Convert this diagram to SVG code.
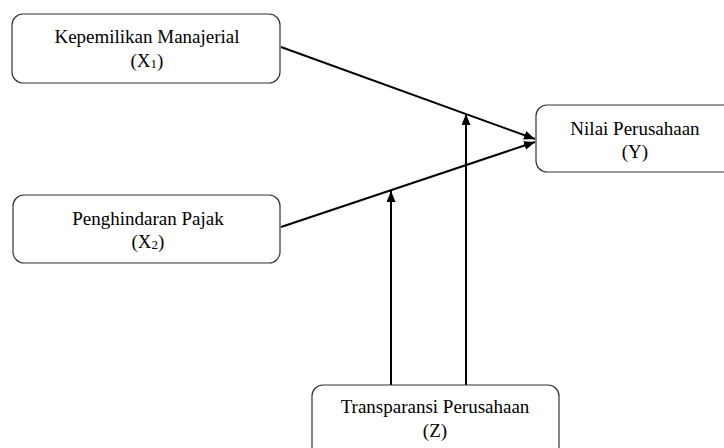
<svg xmlns="http://www.w3.org/2000/svg" width="724" height="448" viewBox="0 0 724 448">
<style>
.box{fill:#fff;stroke:#333;stroke-width:1.2}
text{font-family:'Liberation Serif','DejaVu Serif',serif;font-size:19px;fill:#000;text-anchor:middle}
.sub{font-size:13px}
.ln{stroke:#000;stroke-width:2;fill:none}
</style>
<defs>
<marker id="ah" markerWidth="11" markerHeight="9" refX="11" refY="4.5" orient="auto" markerUnits="userSpaceOnUse">
<path d="M0,0 L11,4.5 L0,9 Z" fill="#000"/>
</marker>
</defs>
<rect width="724" height="448" fill="#fff"/>
<g id="connectors">
<line class="ln" x1="281" y1="47" x2="535" y2="139" marker-end="url(#ah)"/>
<line class="ln" x1="281" y1="227" x2="535" y2="142" marker-end="url(#ah)"/>
<line class="ln" x1="391" y1="385" x2="391" y2="191" marker-end="url(#ah)"/>
<line class="ln" x1="466" y1="385" x2="466" y2="114" marker-end="url(#ah)"/>
</g>
<g id="x1">
<rect class="box" x="12" y="14" width="268" height="69" rx="11"/>
<text x="147" y="43" font-family="Liberation Serif, serif">Kepemilikan Manajerial</text>
<text x="147" y="67" font-family="Liberation Serif, serif">(X<tspan class="sub" dy="1">1</tspan><tspan dy="-1">)</tspan></text>
</g>
<g id="x2">
<rect class="box" x="13" y="195" width="267" height="68" rx="11"/>
<text x="148" y="225" font-family="Liberation Serif, serif">Penghindaran Pajak</text>
<text x="148" y="248" font-family="Liberation Serif, serif">(X<tspan class="sub" dy="1">2</tspan><tspan dy="-1">)</tspan></text>
</g>
<g id="y">
<rect class="box" x="536" y="105" width="198" height="67" rx="11"/>
<text x="635" y="135" font-family="Liberation Serif, serif">Nilai Perusahaan</text>
<text x="635" y="158" font-family="Liberation Serif, serif">(Y)</text>
</g>
<g id="z">
<rect class="box" x="312" y="385" width="247" height="75" rx="11"/>
<text x="435" y="413" font-family="Liberation Serif, serif">Transparansi Perusahaan</text>
<text x="435" y="437" font-family="Liberation Serif, serif">(Z)</text>
</g>
</svg>
